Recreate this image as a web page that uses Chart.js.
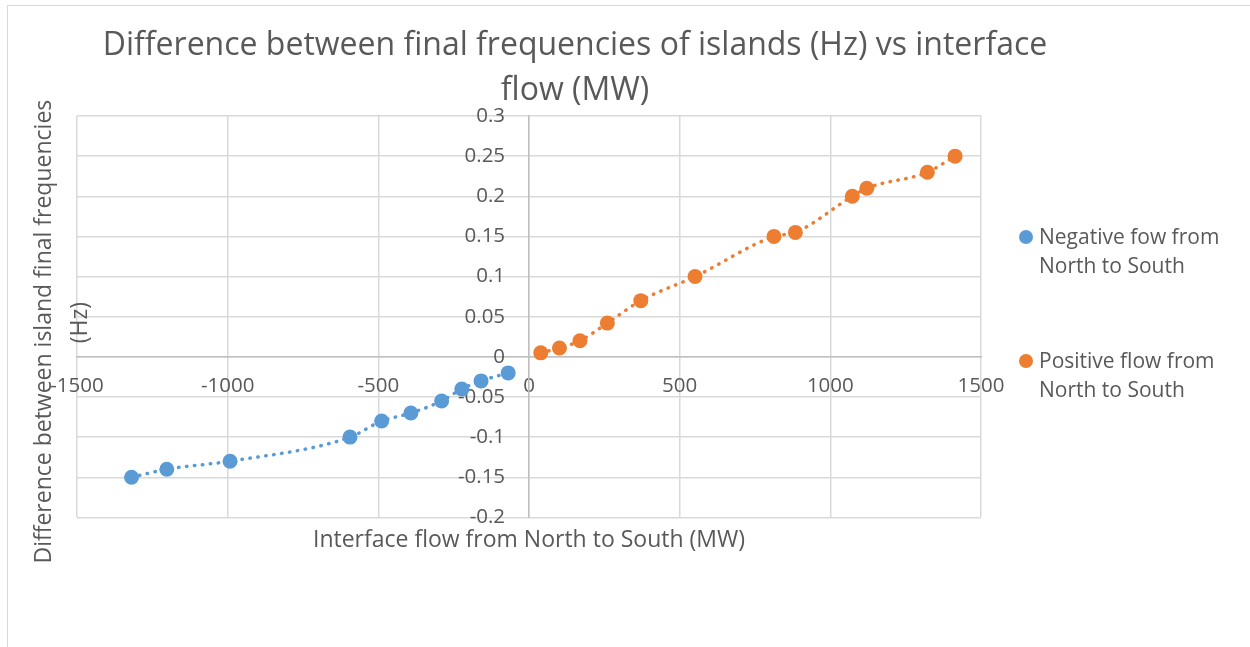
<!DOCTYPE html>
<html>
<head>
<meta charset="utf-8">
<script src="https://cdn.jsdelivr.net/npm/chart.js@4/dist/chart.umd.min.js"></script>
<style>
  html, body { margin: 0; padding: 0; background: #fff; }
  body { width: 1250px; height: 647px; position: relative; overflow: hidden; font-family: 'Open Sans', sans-serif; color: #595959; }
  #frame { position: absolute; left: 7px; top: 5px; width: 1400px; height: 800px; border-left: 1px solid #d9d9d9; border-top: 1px solid #d9d9d9; }
  #chart { position: absolute; left: 0; top: 0; }
  #title { position: absolute; left: 0; top: 20px; width: 1150px; text-align: center; font-size: 32px; line-height: 45px; }
  .legend-item { position: absolute; left: 1039px; font-size: 21px; line-height: 29px; }
  .legend-item .dot { position: absolute; left: -20px; top: 8px; width: 14px; height: 14px; border-radius: 50%; }
</style>
</head>
<body>
<div id="frame"></div>
<canvas id="chart" width="1250" height="647"></canvas>
<div id="title">Difference between final frequencies of islands (Hz) vs interface<br>flow (MW)</div>
<div class="legend-item" style="top:222px"><span class="dot" style="background:#5B9BD5"></span>Negative fow from<br>North to South</div>
<div class="legend-item" style="top:346px"><span class="dot" style="background:#ED7D31"></span>Positive flow from<br>North to South</div>
<script>
'use strict';

// interface flow (MW) and frequency difference (Hz)
const negativeFlow = [-1319, -1202, -992, -594, -489, -392, -290, -223, -159, -69];
const negativeDiff = [-0.15, -0.14, -0.13, -0.1, -0.08, -0.07, -0.055, -0.04, -0.03, -0.02];
const positiveFlow = [39, 101, 169, 260, 371, 551, 813, 884, 1073, 1121, 1322, 1414];
const positiveDiff = [0.005, 0.011, 0.02, 0.042, 0.07, 0.1, 0.15, 0.155, 0.2, 0.21, 0.23, 0.25];

const xTicks = [-1500, -1000, -500, 0, 500, 1000, 1500];
const yTicks = [-0.2, -0.15, -0.1, -0.05, 0, 0.05, 0.1, 0.15, 0.2, 0.25, 0.3];

const TEXT = '#595959';
const FONT = "'Open Sans', sans-serif";

function points(xs, ys) {
  return xs.map(function (x, i) { return { x: x, y: ys[i] }; });
}

function series(label, xs, ys, color) {
  return {
    label: label,
    data: points(xs, ys),
    showLine: true,
    cubicInterpolationMode: 'monotone',
    borderColor: color,
    borderWidth: 3.5,
    borderDash: [0.5, 7.5],
    borderCapStyle: 'round',
    backgroundColor: color,
    pointBackgroundColor: color,
    pointBorderWidth: 0,
    pointRadius: 7.5,
    pointHoverRadius: 7.5
  };
}

function fixedTicks(values) {
  return function (scale) {
    scale.ticks = values.map(function (v) { return { value: v }; });
  };
}

const tickFont = { family: FONT, size: 20.5 };

new Chart(document.getElementById('chart'), {
  type: 'scatter',
  data: {
    datasets: [
      series('Negative fow from North to South', negativeFlow, negativeDiff, '#5B9BD5'),
      series('Positive flow from North to South', positiveFlow, positiveDiff, '#ED7D31')
    ]
  },
  options: {
    responsive: false,
    animation: false,
    layout: { padding: { left: 0, top: 116, right: 269, bottom: 89 } },
    plugins: {
      legend: { display: false },
      title: { display: false },
      tooltip: { enabled: false }
    },
    scales: {
      x: {
        type: 'linear',
        position: 'bottom',
        min: xTicks[0],
        max: xTicks[xTicks.length - 1],
        afterBuildTicks: fixedTicks(xTicks),
        ticks: { display: false },
        grid: { color: '#d9d9d9', lineWidth: 1.5, drawTicks: false },
        border: { display: false },
        title: {
          display: true,
          text: 'Interface flow from North to South (MW)',
          color: TEXT,
          font: { family: FONT, size: 23 },
          padding: { top: 9, bottom: 4 }
        }
      },
      y: {
        type: 'linear',
        position: 'left',
        min: yTicks[0],
        max: yTicks[yTicks.length - 1],
        afterBuildTicks: fixedTicks(yTicks),
        ticks: { display: false },
        grid: { color: '#d9d9d9', lineWidth: 1.5, drawTicks: false },
        border: { display: false },
        title: {
          display: true,
          // trailing spaces nudge the rotated text down like the original
          text: ['Difference between island final frequencies     ', '(Hz)  '],
          color: TEXT,
          font: { family: FONT, size: 23, lineHeight: 1.565 },
          padding: { top: 26, bottom: -21 }
        }
      },
      xAxisLine: {
        axis: 'x',
        type: 'linear',
        position: { y: 0 },
        min: xTicks[0],
        max: xTicks[xTicks.length - 1],
        afterBuildTicks: fixedTicks(xTicks),
        grid: { display: false, drawTicks: false },
        border: { color: '#bfbfbf', width: 1.5 },
        ticks: {
          color: TEXT,
          font: tickFont,
          padding: 17,
          maxRotation: 0,
          autoSkip: false,
          callback: function (v) { return String(v); }
        }
      },
      yAxisLine: {
        axis: 'y',
        type: 'linear',
        position: { x: 0 },
        min: yTicks[0],
        max: yTicks[yTicks.length - 1],
        afterBuildTicks: fixedTicks(yTicks),
        grid: { display: false, drawTicks: false },
        border: { color: '#bfbfbf', width: 1.5 },
        ticks: {
          color: TEXT,
          font: tickFont,
          autoSkip: false,
          // centre-positioned axes ignore ticks.padding, so pad with spaces
          callback: function (v) { return String(+v.toFixed(2)) + '\u2002\u2002\u2009'; }
        }
      }
    }
  }
});
</script>
</body>
</html>
